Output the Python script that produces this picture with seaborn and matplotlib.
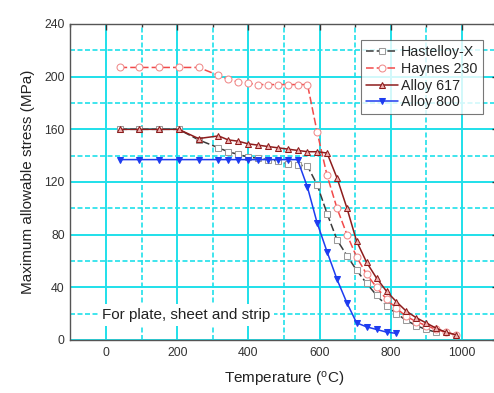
"""
Allowable stress vs temperature for high-temperature alloys
"""

import numpy as np
import pandas as pd
import matplotlib
matplotlib.use('Agg')
import matplotlib.pyplot as plt
from matplotlib.ticker import MultipleLocator
import seaborn as sns

# ASME temperature steps (degC)
temps = [38, 93, 149, 204, 260, 316, 343, 371, 399, 427, 454, 482, 510, 538,
         566, 593, 621, 649, 677, 704, 732, 760, 788, 816, 843, 871, 899, 927,
         954, 982]

hastelloy_x = [160, 160, 160, 160, 152, 146, 143, 141, 139, 138, 137, 136, 134, 133,
               132, 118, 96, 76, 64, 53, 43, 34, 26, 20, 15, 11, 8, 6]
haynes_230 = [207, 207, 207, 207, 207, 201, 198, 196, 195, 194, 194, 194, 194, 194,
              194, 158, 125, 100, 80, 63, 50, 40, 31, 24, 18, 14, 11, 8, 6, 4]
alloy_617 = [160, 160, 160, 160, 153, 155, 152, 151, 149, 148, 147, 146, 145, 144,
             143, 143, 142, 123, 100, 75, 59, 47, 37, 29, 22, 17, 13, 9, 6, 4]
alloy_800 = [137, 137, 137, 137, 137, 137, 137, 137, 137, 137, 137, 137, 137, 137,
             116, 89, 67, 46, 28, 13, 10, 8, 6, 5]

note = 'For plate, sheet and strip'

sns.set_style('white')
plt.rcParams['font.family'] = ['Liberation Sans', 'DejaVu Sans']
plt.rcParams['mathtext.default'] = 'regular'

fig = plt.figure(figsize=(4.94, 3.93), dpi=100)
ax = fig.add_axes([70.4 / 494, 53 / 393, 427.2 / 494, 316 / 393])

series = [
    ('Hastelloy-X', hastelloy_x,
     dict(color='#3a3a3a', ls=(0, (5, 2)), marker='s', ms=4, mfc='white', mec='#9a9a9a', lw=1.1)),
    ('Haynes 230', haynes_230,
     dict(color='#f24a4a', ls=(0, (5, 2)), marker='o', ms=5, mfc='white', mec='#f08a8a', lw=1.1)),
    ('Alloy 617', alloy_617,
     dict(color='#8e1c1c', ls='-', marker='^', ms=5, mfc='#f0b0b0', mec='#8e1c1c', lw=1.1)),
    ('Alloy 800', alloy_800,
     dict(color='#1e3cf0', ls='-', marker='v', ms=5, mfc='#1e3cf0', mec='#1e3cf0', lw=1.1)),
]

for name, vals, style in series:
    df = pd.DataFrame({'T': temps[:len(vals)], 'S': vals})
    sns.lineplot(data=df, x='T', y='S', ax=ax, sort=False, label=name, zorder=3, **style)

ax.set_xlim(-100, 1100)
ax.set_ylim(0, 240)
ax.xaxis.set_major_locator(MultipleLocator(200))
ax.xaxis.set_minor_locator(MultipleLocator(100))
ax.yaxis.set_major_locator(MultipleLocator(40))
ax.yaxis.set_minor_locator(MultipleLocator(20))

grid_c = '#1fe0ea'
ax.grid(True, which='major', color=grid_c, lw=1.4, ls='-', zorder=0)
ax.grid(True, which='minor', color=grid_c, lw=1.2, ls=(0, (3, 1.5)), zorder=0)
ax.set_axisbelow(True)

ax.tick_params(which='both', direction='in', top=True, right=True,
               color='#333333', labelsize=8.8, labelcolor='#333333')
ax.tick_params(which='major', length=4, width=1)
ax.tick_params(which='minor', length=2.5, width=1)
ax.tick_params(axis='x', pad=5)
ax.tick_params(axis='y', pad=4)
for sp in ax.spines.values():
    sp.set_color('#555555')
    sp.set_linewidth(1.0)

ax.set_xlabel(r'Temperature ($^o$C)', fontsize=11, color='#222222', labelpad=8)
ax.set_ylabel('Maximum allowable stress (MPa)', fontsize=11, color='#222222', labelpad=7)

ax.text(-12, 19, note, fontsize=11, color='#222222', va='center', ha='left',
        bbox=dict(facecolor='white', edgecolor='none', pad=3), zorder=2)

leg = ax.legend(loc='upper right', bbox_to_anchor=(0.965, 0.95), fontsize=10.3,
                frameon=True, fancybox=False, handlelength=2.2, handletextpad=0.25,
                borderpad=0.35, labelspacing=0.2, borderaxespad=0)
leg.get_frame().set_edgecolor('#555555')
leg.get_frame().set_linewidth(0.8)

fig.savefig('out.png', dpi=100)
